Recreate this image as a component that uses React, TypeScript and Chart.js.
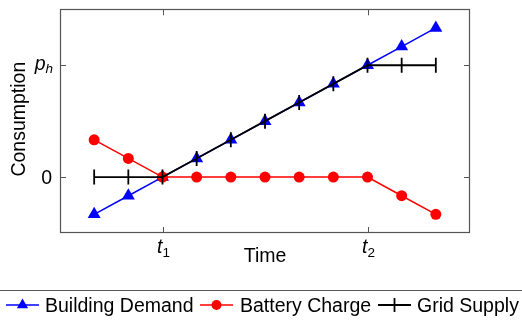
import React, { useEffect, useRef } from "react";
import { Chart, registerables } from "chart.js";

Chart.register(...registerables);

const timeSteps = [0, 1, 2, 3, 4, 5, 6, 7, 8, 9, 10];
const buildingDemand = [-2, -1, 0, 1, 2, 3, 4, 5, 6, 7, 8];
const batteryCharge = [2, 1, 0, 0, 0, 0, 0, 0, 0, -1, -2];
const gridSupply = [0, 0, 0, 1, 2, 3, 4, 5, 6, 6, 6];

const xTickValues = [2, 8];
const xTickMain = ["t", "t"];
const xTickSub = ["1", "2"];
const yTickValues = [0, 6];
const yTickMain = ["0", "p"];
const yTickSub = ["", "h"];

const xTitle = "Time";
const yTitle = "Consumption";
const seriesNames = ["Building Demand", "Battery Charge", "Grid Supply"];
const seriesColors = ["#0000ff", "#ff0000", "#000000"];

const FONT = "'Liberation Sans', Arial, Helvetica, sans-serif";
const FS = 19.5;
const SUB = 13.5;
const FRAME = "#555555";

const pts = (arr: number[]) => timeSteps.map((t, i) => ({ x: t, y: arr[i] }));

const decorPlugin = {
  id: "decor",
  beforeDatasetsDraw(chart: any) {
    const { ctx } = chart;
    const x = chart.scales.x;
    const y = chart.scales.y;
    const a = chart.chartArea;
    ctx.save();
    ctx.strokeStyle = FRAME;
    ctx.lineWidth = 1;
    const tl = 6;
    ctx.beginPath();
    xTickValues.forEach((v) => {
      const px = Math.round(x.getPixelForValue(v)) + 0.5;
      ctx.moveTo(px, a.bottom);
      ctx.lineTo(px, a.bottom - tl);
      ctx.moveTo(px, a.top);
      ctx.lineTo(px, a.top + tl);
    });
    yTickValues.forEach((v) => {
      const py = Math.round(y.getPixelForValue(v)) + 0.5;
      ctx.moveTo(a.left, py);
      ctx.lineTo(a.left + tl, py);
      ctx.moveTo(a.right, py);
      ctx.lineTo(a.right - tl, py);
    });
    ctx.stroke();
    ctx.restore();
  },
  afterDraw(chart: any) {
    const { ctx } = chart;
    const x = chart.scales.x;
    const y = chart.scales.y;
    const a = chart.chartArea;
    ctx.save();
    // frame
    ctx.strokeStyle = FRAME;
    ctx.lineWidth = 1.2;
    ctx.strokeRect(Math.round(a.left) + 0.5, Math.round(a.top) + 0.5, Math.round(a.right - a.left) - 1, Math.round(a.bottom - a.top) - 1);

    ctx.fillStyle = "#000";
    // x tick labels
    xTickValues.forEach((v, i) => {
      const px = x.getPixelForValue(v);
      ctx.font = `italic ${FS}px ${FONT}`;
      const w1 = ctx.measureText(xTickMain[i]).width;
      ctx.font = `${SUB}px ${FONT}`;
      const w2 = ctx.measureText(xTickSub[i]).width;
      const start = px - (w1 + w2) / 2 + 1;
      ctx.textBaseline = "alphabetic";
      ctx.textAlign = "left";
      ctx.font = `italic ${FS}px ${FONT}`;
      ctx.fillText(xTickMain[i], start, a.bottom + 20);
      ctx.font = `${SUB}px ${FONT}`;
      ctx.fillText(xTickSub[i], start + w1, a.bottom + 24);
    });
    // y tick labels
    yTickValues.forEach((v, i) => {
      const py = y.getPixelForValue(v);
      const right = a.left - 8;
      ctx.textBaseline = "alphabetic";
      ctx.textAlign = "left";
      if (yTickSub[i]) {
        ctx.font = `italic ${SUB}px ${FONT}`;
        const w2 = ctx.measureText(yTickSub[i]).width;
        ctx.font = `italic ${FS}px ${FONT}`;
        const w1 = ctx.measureText(yTickMain[i]).width;
        const start = right - w1 - w2 + 1;
        ctx.fillText(yTickMain[i], start, py + 5);
        ctx.font = `italic ${SUB}px ${FONT}`;
        ctx.fillText(yTickSub[i], start + w1, py + 8);
      } else {
        ctx.font = `${FS}px ${FONT}`;
        ctx.textAlign = "right";
        ctx.fillText(yTickMain[i], right, py + 7);
      }
    });
    // axis titles
    ctx.font = `${FS}px ${FONT}`;
    ctx.textAlign = "center";
    ctx.textBaseline = "alphabetic";
    ctx.fillText(xTitle, (a.left + a.right) / 2, 262);
    ctx.save();
    ctx.translate(24.5, (a.top + a.bottom) / 2 - 2);
    ctx.rotate(-Math.PI / 2);
    ctx.fillText(yTitle, 0, 0);
    ctx.restore();

    // legend
    const ly = 305;
    ctx.strokeStyle = FRAME;
    ctx.lineWidth = 1.2;
    ctx.beginPath();
    ctx.moveTo(0, 290.5);
    ctx.lineTo(522, 290.5);
    ctx.stroke();
    const entries = [
      { x0: 6, x1: 39, tx: 45 },
      { x0: 200, x1: 233, tx: 240 },
      { x0: 378, x1: 411, tx: 417 },
    ];
    entries.forEach((e, i) => {
      const c = seriesColors[i];
      const cx = (e.x0 + e.x1) / 2;
      ctx.strokeStyle = c;
      ctx.fillStyle = c;
      ctx.lineWidth = i === 2 ? 1.8 : 1.5;
      ctx.beginPath();
      ctx.moveTo(e.x0, ly);
      ctx.lineTo(e.x1, ly);
      ctx.stroke();
      if (i === 0) {
        const r = 6.5;
        ctx.beginPath();
        ctx.moveTo(cx, ly - r);
        ctx.lineTo(cx + r * 0.866, ly + r / 2);
        ctx.lineTo(cx - r * 0.866, ly + r / 2);
        ctx.closePath();
        ctx.fill();
      } else if (i === 1) {
        ctx.beginPath();
        ctx.arc(cx, ly, 5, 0, Math.PI * 2);
        ctx.fill();
      } else {
        ctx.beginPath();
        ctx.moveTo(cx, ly - 7);
        ctx.lineTo(cx, ly + 7);
        ctx.stroke();
      }
      ctx.fillStyle = "#000";
      ctx.font = `${FS}px ${FONT}`;
      ctx.textAlign = "left";
      ctx.textBaseline = "alphabetic";
      ctx.fillText(seriesNames[i], e.tx, ly + 7);
    });
    ctx.restore();
  },
};

export default function App() {
  const ref = useRef<HTMLCanvasElement | null>(null);
  useEffect(() => {
    if (!ref.current) return;
    const chart = new Chart(ref.current, {
      type: "line",
      data: {
        datasets: [
          {
            label: seriesNames[0],
            data: pts(buildingDemand),
            borderColor: seriesColors[0],
            backgroundColor: seriesColors[0],
            borderWidth: 1.5,
            pointStyle: "triangle",
            pointRadius: 7.5,
            pointBorderWidth: 0,
            order: 2,
          },
          {
            label: seriesNames[1],
            data: pts(batteryCharge),
            borderColor: seriesColors[1],
            backgroundColor: seriesColors[1],
            borderWidth: 1.5,
            pointStyle: "circle",
            pointRadius: 5.5,
            pointBorderWidth: 0,
            order: 1,
          },
          {
            label: seriesNames[2],
            data: pts(gridSupply),
            borderColor: seriesColors[2],
            backgroundColor: seriesColors[2],
            borderWidth: 1.8,
            pointStyle: "line",
            pointRotation: 90,
            pointRadius: 7.5,
            pointBorderWidth: 1.8,
            order: 0,
          },
        ],
      },
      options: {
        animation: false,
        responsive: false,
        maintainAspectRatio: false,
        events: [],
        layout: { padding: { left: 60, top: 8, right: 52, bottom: 88 } },
        plugins: { legend: { display: false }, tooltip: { enabled: false } },
        scales: {
          x: { type: "linear", min: -1, max: 11, display: false },
          y: { type: "linear", min: -3, max: 9, display: false },
        },
      },
      plugins: [decorPlugin],
    });
    return () => chart.destroy();
  }, []);
  return (
    <div style={{ position: "fixed", left: 0, top: 0, width: 522, height: 321, background: "#fff" }}>
      <canvas ref={ref} width={522} height={321} style={{ width: 522, height: 321 }} />
    </div>
  );
}
